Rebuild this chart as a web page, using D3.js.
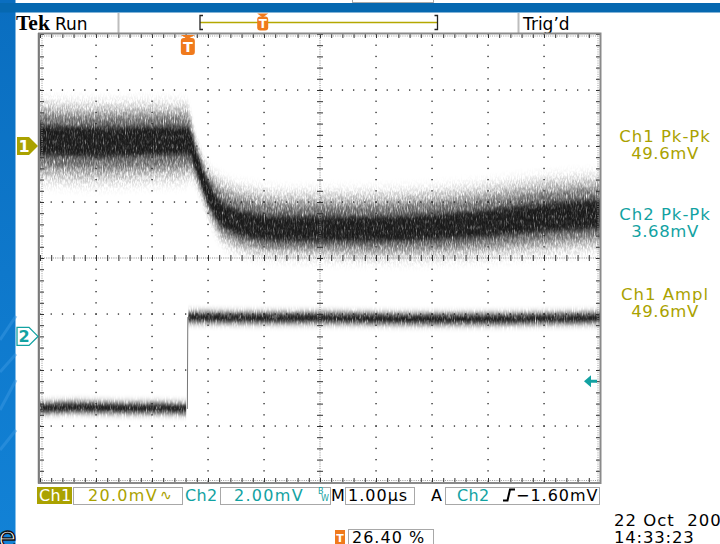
<!DOCTYPE html>
<html>
<head>
<meta charset="utf-8">
<script src="https://cdn.jsdelivr.net/npm/d3@7"></script>
<style>
  html, body { margin: 0; padding: 0; background: #fff; overflow: hidden; }
  svg { display: block; font-family: "DejaVu Sans", sans-serif; }
</style>
</head>
<body>
<svg id="scope" width="720" height="544"></svg>
<script>
// ---- acquisition settings -------------------------------------------------
const timePerDiv = 1.0;       // µs / div
const triggerPct = 26.40;     // % of record before the trigger point
const ch1PerDiv = 20.0;       // mV / div
const ch2PerDiv = 2.00;       // mV / div
const ch1Position = 2.0;      // divisions above centre
const ch2Position = -1.4;     // divisions above centre
const triggerLevel = -1.60;   // mV, on Ch2

// ---- Ch1 trace envelope: time (µs), centre (mV), dense band, full spread ---
const ch1Times = [-2.64, -1.57, -0.68, -0.05, 0.04, 0.13, 0.22, 0.31, 0.40, 0.49, 0.57, 0.75,
                  1.02, 1.29, 1.82, 2.54, 3.25, 3.97, 4.68, 5.40, 6.11, 6.82, 7.36];
const ch1Mid   = [2.1, 1.4, 1.8, 1.8, 0.7, -4.3, -9.3, -14.3, -18.2, -21.4, -23.6, -26.1,
                  -27.9, -28.9, -29.6, -29.6, -29.6, -29.3, -28.6, -27.5, -26.1, -25.0, -24.3];
const ch1Core  = [5.4, 5.4, 5.2, 5.0, 4.6, 3.8, 3.6, 3.6, 3.8, 4.0, 4.2, 4.4,
                  4.5, 4.5, 4.5, 4.5, 4.5, 4.6, 4.7, 4.9, 5.1, 5.2, 5.2];
const ch1Upper = [12.9, 13.2, 12.9, 12.5, 11.0, 8.0, 7.5, 8.0, 9.0, 10.5, 11.5, 12.0,
                  12.5, 12.5, 12.5, 12.5, 12.5, 12.6, 12.8, 13.0, 13.2, 13.2, 13.0];
const ch1Lower = [13.6, 13.9, 13.6, 13.2, 11.0, 8.0, 7.5, 7.5, 8.0, 8.5, 9.0, 9.3,
                  9.6, 9.6, 9.6, 9.8, 10.2, 10.5, 10.8, 11.2, 11.6, 11.8, 11.8];

// ---- Ch2 trace: before and after the step (µs, mV) -------------------------
const ch2LowTimes  = [-2.64, -2.0, -1.2, -0.4, -0.03];
const ch2LowMv     = [-2.56, -2.52, -2.56, -2.56, -2.59];
const ch2HighTimes = [0.01, 1.0, 2.5, 4.0, 5.5, 7.36];
const ch2HighMv    = [0.69, 0.66, 0.66, 0.62, 0.62, 0.66];
const ch2Band = 0.19;         // mV half-width of the noise band

// ---- readouts ------------------------------------------------------------
const measLabels   = ["Ch1 Pk-Pk", "Ch2 Pk-Pk", "Ch1 Ampl"];
const measValues   = ["49.6mV", "3.68mV", "49.6mV"];
const measChannels = [1, 2, 1];
const dateText = "22 Oct  2007";
const timeText = "14:33:23";

// ---- colours -------------------------------------------------------------
const C1 = "#aaa200", C2 = "#12a2a2", ORANGE = "#f07a1c", BLUE = "#0668b0";

const svg = d3.select("#scope");
const W = 720, H = 544;
const gx0 = 40, gx1 = 600, gy0 = 34, gy1 = 482;

// scales
const tStart = -triggerPct / 100 * 10 * timePerDiv;
const x = d3.scaleLinear().domain([tStart, tStart + 10 * timePerDiv]).range([gx0, gx1]);
const y1 = d3.scaleLinear().domain([(-4 - ch1Position) * ch1PerDiv, (4 - ch1Position) * ch1PerDiv]).range([gy1, gy0]);
const y2 = d3.scaleLinear().domain([(-4 - ch2Position) * ch2PerDiv, (4 - ch2Position) * ch2PerDiv]).range([gy1, gy0]);
const xDiv = d3.scaleLinear().domain([0, 10]).range([gx0, gx1]);
const yDiv = d3.scaleLinear().domain([-4, 4]).range([gy1, gy0]);

// ---- defs: clip + grain filters ------------------------------------------
const defs = svg.append("defs");
defs.append("clipPath").attr("id", "screen")
  .append("rect").attr("x", gx0).attr("y", gy0).attr("width", gx1 - gx0).attr("height", gy1 - gy0);

function grain(id, blurY, freq, seed, gain, bias) {
  const f = defs.append("filter").attr("id", id)
    .attr("filterUnits", "userSpaceOnUse")
    .attr("x", 20).attr("y", 20).attr("width", 600).attr("height", 480);
  f.append("feGaussianBlur").attr("in", "SourceGraphic").attr("stdDeviation", `0.5 ${blurY}`).attr("result", "b");
  f.append("feTurbulence").attr("type", "fractalNoise").attr("baseFrequency", freq)
    .attr("numOctaves", 2).attr("seed", seed).attr("result", "t");
  f.append("feColorMatrix").attr("in", "t").attr("type", "matrix")
    .attr("values", `0 0 0 0 0  0 0 0 0 0  0 0 0 0 0  ${gain} 0 0 0 ${bias}`).attr("result", "m");
  f.append("feComposite").attr("in", "b").attr("in2", "m").attr("operator", "in");
}
grain("grainHalo", 6, "0.8 0.25", 11, 4.0, -1.5);
grain("grainOuter", 5, "0.9 0.18", 4, 3.5, -1.0);
grain("grainMid", 3, "0.9 0.15", 9, 3.0, -0.6);
grain("grainCore", 2.5, "0.9 0.2", 2, 2.2, -0.1);

// ---- background + frame furniture ----------------------------------------
svg.append("rect").attr("width", W).attr("height", H).attr("fill", "#fff");

// desktop strip on the left and window band on top
const lg = defs.append("linearGradient").attr("id", "strip").attr("x1", 0).attr("y1", 0).attr("x2", 0).attr("y2", 1);
lg.append("stop").attr("offset", 0).attr("stop-color", "#0a6ec0");
lg.append("stop").attr("offset", 1).attr("stop-color", "#1282d6");
svg.append("rect").attr("x", 0).attr("y", 0).attr("width", 15.5).attr("height", H).attr("fill", "url(#strip)");
[[340, 24], [372, 18], [410, 30], [450, 20]].forEach(([yy, dy]) => {
  svg.append("path").attr("d", `M0,${yy} L16,${yy - dy}`).attr("stroke", "#3a98e2")
    .attr("stroke-width", 3).attr("opacity", 0.5);
});
svg.append("rect").attr("x", 0).attr("y", 3).attr("width", W).attr("height", 9.5).attr("fill", BLUE);
svg.append("rect").attr("x", 352.5).attr("y", -4).attr("width", 81).attr("height", 6.5)
  .attr("fill", "#fff").attr("stroke", "#aaa");
svg.append("text").attr("x", -2).attr("y", 548).attr("font-size", 30).attr("fill", "#fff")
  .attr("stroke", "#111").attr("stroke-width", 1.4).text("e");

// ---- header ---------------------------------------------------------------
const hdr = svg.append("g");
hdr.append("text").attr("x", 16).attr("y", 30).style("font-family", "'Liberation Serif', serif")
  .attr("font-weight", "bold").attr("font-size", 21.5).attr("fill", "#000").text("Tek");
hdr.append("text").attr("x", 55).attr("y", 30).attr("font-size", 17).attr("fill", "#000").text("Run");
[118.5, 518.5].forEach(xx => hdr.append("line").attr("x1", xx).attr("x2", xx).attr("y1", 13).attr("y2", 33)
  .attr("stroke", "#bdbdbd").attr("stroke-width", 2));
hdr.append("text").attr("x", 523).attr("y", 30).attr("font-size", 17).attr("fill", "#000").text("Trig\u2019d");

// record bracket with trigger point
const recL = 200, recR = 437.5;
const recX = d3.scaleLinear().domain([0, 100]).range([recL, recR]);
hdr.append("line").attr("x1", recL).attr("x2", recR).attr("y1", 22.5).attr("y2", 22.5)
  .attr("stroke", "#b4a800").attr("stroke-width", 1.6);
hdr.append("path").attr("d", `M${recL + 3},15.5 H${recL} V29.5 H${recL + 3}`).attr("fill", "none").attr("stroke", "#222").attr("stroke-width", 1.3);
hdr.append("path").attr("d", `M${recR - 3},15.5 H${recR} V29.5 H${recR - 3}`).attr("fill", "none").attr("stroke", "#222").attr("stroke-width", 1.3);

function tMarker(g, cx, top, h, w) {
  g.append("path").attr("d", `M${cx - w / 2},${top} H${cx + w / 2} L${cx},${top + 4} Z`).attr("fill", ORANGE);
  g.append("rect").attr("x", cx - w / 2).attr("y", top + 3).attr("width", w).attr("height", h)
    .attr("rx", 3).attr("fill", ORANGE);
  g.append("text").attr("x", cx).attr("y", top + 3 + h * 0.82).attr("text-anchor", "middle")
    .attr("font-weight", "bold").attr("font-size", h * 0.85).attr("fill", "#fff").text("T");
}
tMarker(hdr, recX(triggerPct), 13.5, 14, 11);

// ---- traces -------------------------------------------------------------
const traces = svg.append("g").attr("clip-path", "url(#screen)");

const ch1Idx = d3.range(ch1Times.length);
function ch1Band(up, lo) {
  return d3.area().curve(d3.curveMonotoneX)
    .x(i => x(ch1Times[i])).y0(i => y1(ch1Mid[i] - lo(i))).y1(i => y1(ch1Mid[i] + up(i)))(ch1Idx);
}
traces.append("path").attr("d", ch1Band(i => ch1Upper[i] * 1.12, i => ch1Lower[i] * 1.15))
  .attr("fill", "#000").attr("opacity", 0.16).attr("filter", "url(#grainHalo)");
traces.append("path").attr("d", ch1Band(i => ch1Upper[i] * 0.92, i => ch1Lower[i] * 0.92))
  .attr("fill", "#000").attr("opacity", 0.28).attr("filter", "url(#grainOuter)");
traces.append("path").attr("d", ch1Band(i => (ch1Core[i] + ch1Upper[i]) / 2, i => (ch1Core[i] + ch1Lower[i]) / 2))
  .attr("fill", "#000").attr("opacity", 0.4).attr("filter", "url(#grainMid)");
traces.append("path").attr("d", ch1Band(i => ch1Core[i], i => ch1Core[i]))
  .attr("fill", "#000").attr("opacity", 0.75).attr("filter", "url(#grainCore)");

function ch2Segment(ts, vs) {
  const idx = d3.range(ts.length);
  const band = k => d3.area().x(i => x(ts[i])).y0(i => y2(vs[i] - ch2Band * k)).y1(i => y2(vs[i] + ch2Band * k))(idx);
  traces.append("path").attr("d", band(1.2)).attr("fill", "#000").attr("opacity", 0.5).attr("filter", "url(#grainMid)");
  traces.append("path").attr("d", band(0.6)).attr("fill", "#000").attr("opacity", 0.95).attr("filter", "url(#grainCore)");
}
ch2Segment(ch2LowTimes, ch2LowMv);
ch2Segment(ch2HighTimes, ch2HighMv);
// rising edge between the two levels
traces.append("line")
  .attr("x1", x(ch2LowTimes[ch2LowTimes.length - 1]) + 1.2).attr("x2", x(ch2HighTimes[0]) - 0.6)
  .attr("y1", y2(ch2LowMv[ch2LowMv.length - 1])).attr("y2", y2(ch2HighMv[0]))
  .attr("stroke", "#777").attr("stroke-width", 1);

// ---- graticule ------------------------------------------------------------
const grid = svg.append("g");
const minorX = d3.range(0, 51).map(i => i / 5);
const minorY = d3.range(0, 41).map(i => -4 + i / 5);
const fineX = d3.range(0, 251).map(i => i / 25);
const fineY = d3.range(0, 201).map(i => -4 + i / 25);

// dotted division lines
d3.range(1, 10).filter(d => d !== 5).forEach(d => {
  minorY.forEach(v => grid.append("rect").attr("x", xDiv(d) - 0.6).attr("y", yDiv(v) - 0.6)
    .attr("width", 1.3).attr("height", 1.3).attr("fill", "#222"));
});
[-3, -2, -1, 1, 2, 3].forEach(d => {
  minorX.forEach(v => grid.append("rect").attr("x", xDiv(v) - 0.6).attr("y", yDiv(d) - 0.6)
    .attr("width", 1.3).attr("height", 1.3).attr("fill", "#222"));
});
// centre axes with fine dots and minor ticks
fineY.forEach(v => grid.append("rect").attr("x", xDiv(5) - 0.5).attr("y", yDiv(v) - 0.5)
  .attr("width", 1).attr("height", 1).attr("fill", "#888"));
fineX.forEach(v => grid.append("rect").attr("x", xDiv(v) - 0.5).attr("y", yDiv(0) - 0.5)
  .attr("width", 1).attr("height", 1).attr("fill", "#888"));
minorY.forEach(v => grid.append("line").attr("x1", xDiv(5) - 3).attr("x2", xDiv(5) + 3)
  .attr("y1", yDiv(v) + 0.5).attr("y2", yDiv(v) + 0.5).attr("stroke", "#333").attr("stroke-width", 1));
minorX.forEach(v => grid.append("line").attr("x1", xDiv(v) + 0.5).attr("x2", xDiv(v) + 0.5)
  .attr("y1", yDiv(0) - 3).attr("y2", yDiv(0) + 3).attr("stroke", "#333").attr("stroke-width", 1));

// outer frame with edge ticks
fineX.forEach(v => {
  grid.append("rect").attr("x", xDiv(v) - 0.5).attr("y", gy0 + 1.5).attr("width", 1).attr("height", 1).attr("fill", "#999");
  grid.append("rect").attr("x", xDiv(v) - 0.5).attr("y", gy1 - 2).attr("width", 1).attr("height", 1).attr("fill", "#999");
});
fineY.forEach(v => {
  grid.append("rect").attr("x", gx0 + 1.5).attr("y", yDiv(v) - 0.5).attr("width", 1).attr("height", 1).attr("fill", "#999");
  grid.append("rect").attr("x", gx1 - 2.5).attr("y", yDiv(v) - 0.5).attr("width", 1).attr("height", 1).attr("fill", "#999");
});
minorX.forEach(v => {
  grid.append("line").attr("x1", xDiv(v) + 0.5).attr("x2", xDiv(v) + 0.5).attr("y1", gy0).attr("y2", gy0 + 4).attr("stroke", "#333");
  grid.append("line").attr("x1", xDiv(v) + 0.5).attr("x2", xDiv(v) + 0.5).attr("y1", gy1 - 4).attr("y2", gy1).attr("stroke", "#333");
});
minorY.forEach(v => {
  grid.append("line").attr("x1", gx0).attr("x2", gx0 + 4).attr("y1", yDiv(v) + 0.5).attr("y2", yDiv(v) + 0.5).attr("stroke", "#333");
  grid.append("line").attr("x1", gx1 - 4).attr("x2", gx1).attr("y1", yDiv(v) + 0.5).attr("y2", yDiv(v) + 0.5).attr("stroke", "#333");
});
grid.append("rect").attr("x", gx0 - 1).attr("y", gy0 - 0.5).attr("width", gx1 - gx0 + 1.5).attr("height", gy1 - gy0 + 1.5)
  .attr("fill", "none").attr("stroke", "#8a8a8a").attr("stroke-width", 2);
grid.append("line").attr("x1", gx0 - 1.5).attr("x2", gx0 - 1.5).attr("y1", gy0 - 1).attr("y2", gy1 + 1.5)
  .attr("stroke", "#7a7a7a").attr("stroke-width", 1.5);

// ---- on-screen markers ---------------------------------------------------
tMarker(svg, x(0), gy0 + 1, 17, 14);

// channel ground markers
const mk = svg.append("g");
function chMarker(yy, label, filled, col) {
  mk.append("path").attr("d", `M17,${yy - 9} H29 L38,${yy} L29,${yy + 9} H17 Z`)
    .attr("fill", filled ? col : "#fff").attr("stroke", col).attr("stroke-width", filled ? 0 : 1.3);
  mk.append("text").attr("x", 24).attr("y", yy + 6).attr("text-anchor", "middle").attr("font-weight", "bold")
    .attr("font-size", 16).attr("fill", filled ? "#fff" : col).text(label);
}
chMarker(y1(0), "1", true, C1);
chMarker(y2(0), "2", false, C2);

// trigger level arrow on the right edge
const ty = y2(triggerLevel);
mk.append("path").attr("d", `M584,${ty} L591,${ty - 6} V${ty - 1.5} H597 V${ty + 1.5} H591 V${ty + 6} Z`).attr("fill", C2);

// ---- measurement readouts -------------------------------------------------
const readY = [142, 220, 300];
measLabels.forEach((lab, i) => {
  const col = measChannels[i] === 1 ? C1 : C2;
  svg.append("text").attr("x", 665).attr("y", readY[i]).attr("text-anchor", "middle")
    .attr("font-size", 16.5).attr("letter-spacing", 1).attr("fill", col).text(lab);
  svg.append("text").attr("x", 665).attr("y", readY[i] + 17).attr("text-anchor", "middle")
    .attr("font-size", 16.5).attr("letter-spacing", 0.6).attr("fill", col).text(measValues[i]);
});

// ---- status bar -----------------------------------------------------------
const sb = svg.append("g");
const sbY = 487, sbH = 17, base = 501;
function box(x0, x1, yy, h) {
  sb.append("rect").attr("x", x0 + 0.5).attr("y", yy + 0.5).attr("width", x1 - x0).attr("height", h)
    .attr("fill", "#fff").attr("stroke", "#a8a8a8");
}
function txt(xx, yy, s, col, ls, size) {
  return sb.append("text").attr("x", xx).attr("y", yy).attr("font-size", size || 16)
    .attr("letter-spacing", ls || 0).attr("fill", col).text(s);
}
sb.append("rect").attr("x", 37).attr("y", sbY).attr("width", 35).attr("height", sbH).attr("fill", C1);
txt(39, base, "Ch1", "#fff", 0.3);
box(73, 182, sbY, sbH);
txt(88, base, `${ch1PerDiv.toFixed(1)}mV`, C1, 1.3);
txt(160, base - 1, "\u223F", C1, 0, 14);
txt(185, base, "Ch2", C2, 0.3);
box(220, 330, sbY, sbH);
txt(234, base, `${ch2PerDiv.toFixed(2)}mV`, C2, 1.3);
txt(318, 494, "B", C2, 0, 8);
txt(321, 501, "W", C2, 0, 8);
txt(331, base, "M", "#000", 0);
box(345, 414, sbY, sbH);
txt(348, base, `${timePerDiv.toFixed(2)}\u00B5s`, "#000", 1);
txt(431, base, "A", "#000", 0);
box(445, 599, sbY, sbH);
txt(457, base, "Ch2", C2, 0.3);
sb.append("path").attr("d", "M503,500.5 H507.5 L510,489.5 H515").attr("fill", "none")
  .attr("stroke", "#000").attr("stroke-width", 2);
txt(516, base, `\u2212${Math.abs(triggerLevel).toFixed(2)}mV`, "#000", 1);

// trigger position readout
sb.append("rect").attr("x", 335).attr("y", 530).attr("width", 10).attr("height", 14).attr("fill", ORANGE);
sb.append("text").attr("x", 340).attr("y", 542).attr("text-anchor", "middle").attr("font-weight", "bold")
  .attr("font-size", 11).attr("fill", "#fff").text("T");
box(348, 433, 529, 18);
txt(352, 543, `${triggerPct.toFixed(2)} %`, "#000", 1);

// date and time
txt(614, 526, dateText, "#000", 1, 16.5).style("white-space", "pre");
txt(614, 543, timeText, "#000", 0.8, 16.5);
</script>
</body>
</html>
